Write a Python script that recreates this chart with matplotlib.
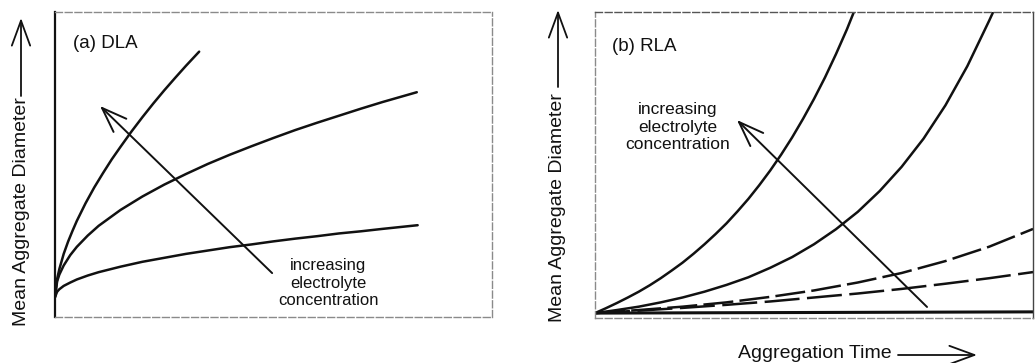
import matplotlib
matplotlib.use('Agg')

import matplotlib.pyplot as plt
from matplotlib.patches import FancyArrowPatch

plt.rcParams['font.family'] = ['Liberation Sans', 'DejaVu Sans']

# (a) DLA: diameter growth, three electrolyte levels (arbitrary units)
dla_time_high = [0, 0.05, 0.1, 0.2, 0.3, 0.4, 0.5, 0.7, 0.9, 1.1, 1.3, 1.5,
                 1.75, 2.0, 2.25, 2.5, 2.75, 3.0, 3.3]
dla_diam_high = [0.65, 1.25, 1.57, 2.07, 2.47, 2.82, 3.15, 3.73, 4.25, 4.72,
                 5.17, 5.58, 6.08, 6.55, 7.00, 7.43, 7.84, 8.24, 8.70]

dla_time_mid = [0, 0.05, 0.1, 0.2, 0.35, 0.5, 0.75, 1, 1.5, 2, 2.5, 3, 3.5,
                4, 4.5, 5, 5.5, 6, 6.5, 7, 7.5, 8.28]
dla_diam_mid = [0.65, 1.17, 1.39, 1.69, 2.03, 2.30, 2.67, 2.99, 3.51, 3.95,
                4.34, 4.69, 5.02, 5.32, 5.60, 5.87, 6.13, 6.37, 6.60, 6.83,
                7.05, 7.37]

dla_time_low = [0, 0.05, 0.1, 0.2, 0.35, 0.5, 0.75, 1, 1.5, 2, 2.5, 3, 3.5,
                4, 4.5, 5, 5.5, 6, 6.5, 7, 7.5, 8.3]
dla_diam_low = [0.65, 0.83, 0.91, 1.02, 1.13, 1.23, 1.36, 1.47, 1.65, 1.81,
                1.94, 2.07, 2.18, 2.29, 2.38, 2.48, 2.57, 2.65, 2.74, 2.81,
                2.89, 3.01]

# (b) RLA: slower, accelerating growth, five electrolyte levels
rla_time_1 = [0, 0.25, 0.5, 0.75, 1, 1.25, 1.5, 1.75, 2, 2.25, 2.5, 2.75, 3,
              3.25, 3.5, 3.75, 4, 4.25, 4.5, 4.75, 5, 5.25, 5.5, 5.75, 5.91]
rla_diam_1 = [0.16, 0.32, 0.49, 0.67, 0.86, 1.07, 1.30, 1.55, 1.81, 2.10,
              2.41, 2.74, 3.09, 3.48, 3.89, 4.34, 4.82, 5.34, 5.90, 6.51,
              7.16, 7.86, 8.62, 9.43, 10.0]

rla_time_2 = [0, 0.5, 1, 1.5, 2, 2.5, 3, 3.5, 4, 4.5, 5, 5.5, 6, 6.5, 7,
              7.5, 8, 8.5, 9, 9.09]
rla_diam_2 = [0.16, 0.26, 0.37, 0.51, 0.67, 0.86, 1.08, 1.33, 1.64, 1.99,
              2.41, 2.90, 3.47, 4.15, 4.94, 5.86, 6.95, 8.23, 9.72, 10.0]

rla_time_3 = [0, 1, 2, 3, 4, 5, 6, 7, 8, 9, 10]
rla_diam_3 = [0.16, 0.26, 0.37, 0.51, 0.69, 0.90, 1.16, 1.47, 1.86, 2.33, 2.91]

rla_time_4 = [0, 1, 2, 3, 4, 5, 6, 7, 8, 9, 10]
rla_diam_4 = [0.16, 0.24, 0.33, 0.43, 0.54, 0.67, 0.80, 0.95, 1.12, 1.30, 1.50]

rla_time_5 = [0, 5, 10]
rla_diam_5 = [0.16, 0.18, 0.20]

ink = "#111111"
faint = "#8a8a8a"

fig = plt.figure(figsize=(10.35, 3.63), dpi=100, facecolor="white")
ax_a = fig.add_axes([0.0531, 0.1267, 0.4222, 0.8402])
ax_b = fig.add_axes([0.5749, 0.124, 0.4232, 0.843])

for ax in (ax_a, ax_b):
    ax.set_xlim(0, 10)
    ax.set_ylim(0, 10)
    ax.set_xticks([])
    ax.set_yticks([])
    for side in ("top", "right", "bottom", "left"):
        ax.spines[side].set_color(faint)
        ax.spines[side].set_linewidth(1.0)
        ax.spines[side].set_linestyle((0, (5, 2)))

ax_a.spines["left"].set_color(ink)
ax_a.spines["left"].set_linewidth(1.6)
ax_a.spines["left"].set_linestyle("-")
ax_b.spines["right"].set_color("#444444")
ax_b.spines["right"].set_linestyle("-")
ax_b.spines["top"].set_color("#555555")

head = "->,head_length=0.9,head_width=0.33"

# panel (a) curves
line_kw = dict(color=ink, linewidth=1.8, solid_capstyle="round")
ax_a.plot(dla_time_high, dla_diam_high, **line_kw)
ax_a.plot(dla_time_mid, dla_diam_mid, **line_kw)
ax_a.plot(dla_time_low, dla_diam_low, **line_kw)

ax_a.annotate("", xy=(1.03, 6.92), xytext=(4.97, 1.44),
              arrowprops=dict(arrowstyle=head, mutation_scale=20,
                              color=ink, lw=1.4, shrinkA=0, shrinkB=0))
ax_a.text(6.25, 1.11, "increasing\nelectrolyte\nconcentration",
          ha="center", va="center", fontsize=12, linespacing=1.2, color=ink)
ax_a.text(0.41, 8.98, "(a) DLA", ha="left", va="center", fontsize=13.5, color=ink)

# panel (b) curves
ax_b.plot(rla_time_1, rla_diam_1, **line_kw)
ax_b.plot(rla_time_2, rla_diam_2, **line_kw)
ax_b.plot(rla_time_3, rla_diam_3, color=ink, linewidth=1.8, linestyle=(0, (12, 2.5)))
ax_b.plot(rla_time_4, rla_diam_4, color=ink, linewidth=1.8, linestyle=(0, (14, 3)))
ax_b.plot(rla_time_5, rla_diam_5, color=ink, linewidth=2.2)

ax_b.annotate("", xy=(3.24, 6.47), xytext=(7.58, 0.36),
              arrowprops=dict(arrowstyle=head, mutation_scale=20,
                              color=ink, lw=1.4, shrinkA=0, shrinkB=0))
ax_b.text(1.89, 6.24, "increasing\nelectrolyte\nconcentration",
          ha="center", va="center", fontsize=12.5, linespacing=1.2, color=ink)
ax_b.text(0.39, 8.86, "(b) RLA", ha="left", va="center", fontsize=13.5, color=ink)

# axis titles with pointer arrows, placed in figure pixels
ylab = "Mean Aggregate Diameter"
fig.text(22, 151, ylab, transform=None, rotation=90, ha="center", va="center",
         fontsize=14, color=ink)
fig.text(558, 155, ylab, transform=None, rotation=90, ha="center", va="center",
         fontsize=14, color=ink)

arrow_kw = dict(arrowstyle=head, mutation_scale=20, color=ink,
                lw=1.3, shrinkA=0, shrinkB=0)
fig.add_artist(FancyArrowPatch((21, 267), (21, 345), transform=None, **arrow_kw))
fig.add_artist(FancyArrowPatch((558, 276), (558, 353), transform=None, **arrow_kw))

fig.text(738, 10, "Aggregation Time", transform=None, ha="left", va="center",
         fontsize=14, color=ink)
fig.add_artist(FancyArrowPatch((898, 8), (977, 8), transform=None, **arrow_kw))

fig.savefig("out.png", dpi=100, facecolor="white")
plt.close(fig)
